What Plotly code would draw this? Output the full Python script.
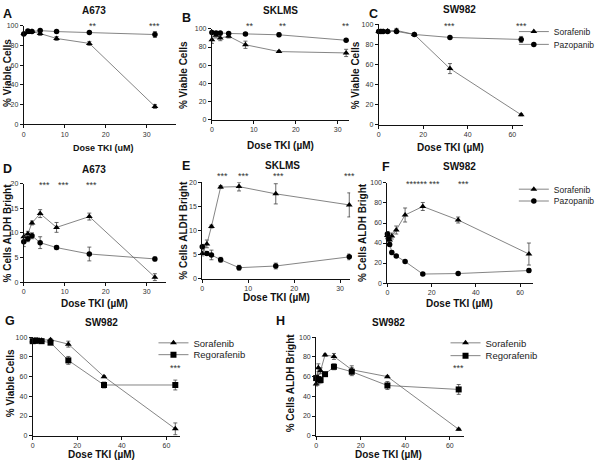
import plotly.graph_objects as go

# ---------------- data ----------------
dose_A = [0, 1, 2, 4, 8, 16, 32]
A_sor = [92, 93, 94, 92, 87, 82, 18]
A_sor_err = [1, 1, 1, 2, 2, 2, 2]
A_paz = [91.5, 94.5, 94, 95, 94, 93, 91]
A_paz_err = [1, 1, 1, 1, 1, 1, 3]

dose_B = [0, 1, 2, 4, 8, 16, 32]
B_sor = [88, 93, 90, 92, 82.5, 75, 73.5]
B_sor_err = [4, 3, 3, 2, 4, 1, 4]
B_paz = [96, 95.5, 95.5, 95, 94.5, 93.5, 87.5]
B_paz_err = [1, 1, 1, 1, 1, 2, 1]

dose_C = [0, 1, 2, 4, 8, 16, 32, 64]
C_sor = [93, 93, 93, 93.5, 94, 90, 56, 10]
C_sor_err = [1, 1, 1, 1, 2, 1, 5, 1]
C_paz = [93, 93, 93, 93, 93, 90, 87, 85]
C_paz_err = [1, 1, 1, 1, 1, 1, 1, 3]

dose_D = [0, 1, 2, 4, 8, 16, 32]
D_sor = [9.2, 9.8, 12.0, 13.9, 11.1, 13.3, 1.0]
D_sor_err = [0.6, 0.5, 0.4, 0.8, 1.0, 0.7, 0.7]
D_paz = [8.2, 8.8, 9.4, 8.0, 7.0, 5.7, 4.7]
D_paz_err = [1.0, 0.6, 0.6, 1.2, 0.4, 1.4, 0.4]

dose_E = [0, 1, 2, 4, 8, 16, 32]
E_sor = [5.2, 7.2, 10.8, 19.0, 19.1, 17.6, 15.3]
E_sor_err = [0.5, 0.8, 0.3, 0.3, 0.9, 2.1, 2.5]
E_paz = [6.6, 5.2, 4.9, 3.9, 2.25, 2.6, 4.5]
E_paz_err = [0.5, 0.4, 1.0, 0.5, 0.5, 0.6, 0.6]

dose_F = [0, 0.5, 1, 2, 4, 8, 16, 32, 64]
F_sor = [47.5, 46, 43, 47, 53, 68, 76.5, 63, 29]
F_sor_err = [4, 3, 3, 3, 4, 7, 4, 3, 11]
F_paz = [49, 44, 38.5, 30.5, 27, 21.5, 9, 9.5, 12.5]
F_paz_err = [2, 2, 2, 2, 1, 1, 1, 1, 2]

dose_G = [0, 1, 2, 4, 8, 16, 32, 64]
G_sor = [96.5, 97, 97, 97, 97.5, 93, 60, 7]
G_sor_err = [1, 1, 1, 1, 1, 3, 1, 6]
G_reg = [96, 96.5, 96.5, 96, 94.5, 76.5, 51.5, 51.5]
G_reg_err = [1, 1, 1, 1, 2, 4, 3, 5]

dose_H = [0, 1, 2, 4, 8, 16, 32, 64]
H_sor = [52.5, 69, 66, 82, 80.5, 67, 60, 6.5]
H_sor_err = [2, 4, 3, 1, 3, 4, 1, 1]
H_reg = [58.5, 57.5, 56.5, 62.5, 70, 65, 51, 47]
H_reg_err = [3, 5, 3, 1, 3, 4, 4, 5]

# significance marks: (panel, x, y, text)
stars = [
    ("A", 17, 100, "**"), ("A", 32, 100, "***"),
    ("B", 9, 103, "**"), ("B", 17, 103, "**"), ("B", 32, 103, "**"),
    ("C", 32, 98, "***"), ("C", 64, 98, "***"),
    ("D", 5, 19.8, "***"), ("D", 9.6, 19.8, "***"), ("D", 16.5, 19.8, "***"),
    ("E", 4.5, 21.2, "***"), ("E", 9, 21.2, "***"), ("E", 16.5, 21.2, "***"), ("E", 32, 21.2, "***"),
    ("F", 13.5, 98.5, "******"), ("F", 21.5, 98.5, "***"), ("F", 34.5, 98.5, "***"),
    ("G", 64, 68.5, "***"),
    ("H", 64, 68.5, "***"),
]

W, H = 600, 467
FONT = "Arial, Liberation Sans, sans-serif"

# panel layout in pixels: x0, x1, xrange end, top, bottom, ymax, xdtick, ydtick
panels = {
    "A": dict(x0=22, x1=176, xe=37.2, top=22, bot=122, ymax=100, xd=10, yd=20),
    "B": dict(x0=212, x1=351, xe=32.8, top=25.3, bot=117.3, ymax=100, xd=10, yd=20),
    "C": dict(x0=380.5, x1=526.7, xe=65, top=20.7, bot=122.7, ymax=100, xd=20, yd=20),
    "D": dict(x0=22, x1=166, xe=34.8, top=182.3, bot=282.3, ymax=20, xd=10, yd=5),
    "E": dict(x0=202.3, x1=351.7, xe=32.2, top=181, bot=278.7, ymax=20, xd=10, yd=5),
    "F": dict(x0=389.3, x1=536.7, xe=66, top=181.7, bot=283.3, ymax=100, xd=20, yd=20),
    "G": dict(x0=31, x1=180, xe=66.2, top=338.3, bot=438.3, ymax=100, xd=20, yd=20),
    "H": dict(x0=317.3, x1=466.7, xe=66.4, top=338.3, bot=438.3, ymax=100, xd=20, yd=20),
}
order = ["A", "B", "C", "D", "E", "F", "G", "H"]

fig = go.Figure()
layout = dict(width=W, height=H, margin=dict(l=0, r=0, t=0, b=0, pad=0),
              paper_bgcolor="white", plot_bgcolor="white", showlegend=True,
              font=dict(family=FONT, color="#222"))
axref = {}
for i, p in enumerate(order):
    c = panels[p]
    n = "" if i == 0 else str(i + 1)
    axref[p] = ("x" + n, "y" + n)
    common = dict(showgrid=False, zeroline=False, showline=True, linecolor="#111",
                  linewidth=1, ticks="outside", ticklen=3, tickwidth=1, tickcolor="#111",
                  tickfont=dict(size=7, family=FONT, color="#333"))
    layout["xaxis" + n] = dict(domain=[c["x0"] / W, c["x1"] / W], range=[0, c["xe"]],
                               anchor="y" + n, dtick=c["xd"], tick0=0, **common)
    layout["yaxis" + n] = dict(domain=[1 - c["bot"] / H, 1 - c["top"] / H], range=[0, c["ymax"]],
                               anchor="x" + n, dtick=c["yd"], tick0=0, **common)

LINE = "#666"
def add(p, xs, ys, err, symbol, name, legend=None):
    xa, ya = axref[p]
    size = 5.5 if symbol == "circle" else 6
    fig.add_trace(go.Scatter(
        x=xs, y=ys, mode="lines+markers", name=name,
        xaxis=xa, yaxis=ya, cliponaxis=False,
        line=dict(color=LINE, width=0.8),
        marker=dict(symbol=symbol, size=size, color="#000"),
        error_y=dict(type="data", array=err, color="#444", thickness=0.8, width=2),
        showlegend=legend is not None, legend=legend if legend else "legend"))

add("A", dose_A, A_sor, A_sor_err, "triangle-up", "Sorafenib")
add("A", dose_A, A_paz, A_paz_err, "circle", "Pazopanib")
add("B", dose_B, B_sor, B_sor_err, "triangle-up", "Sorafenib")
add("B", dose_B, B_paz, B_paz_err, "circle", "Pazopanib")
add("C", dose_C, C_sor, C_sor_err, "triangle-up", "Sorafenib", "legend")
add("C", dose_C, C_paz, C_paz_err, "circle", "Pazopanib", "legend2")
add("D", dose_D, D_sor, D_sor_err, "triangle-up", "Sorafenib")
add("D", dose_D, D_paz, D_paz_err, "circle", "Pazopanib")
add("E", dose_E, E_sor, E_sor_err, "triangle-up", "Sorafenib")
add("E", dose_E, E_paz, E_paz_err, "circle", "Pazopanib")
add("F", dose_F, F_sor, F_sor_err, "triangle-up", "Sorafenib", "legend3")
add("F", dose_F, F_paz, F_paz_err, "circle", "Pazopanib", "legend4")
add("G", dose_G, G_sor, G_sor_err, "triangle-up", "Sorafenib", "legend5")
add("G", dose_G, G_reg, G_reg_err, "square", "Regorafenib", "legend6")
add("H", dose_H, H_sor, H_sor_err, "triangle-up", "Sorafenib", "legend7")
add("H", dose_H, H_reg, H_reg_err, "square", "Regorafenib", "legend8")

# legends: (name, text-left px, center y px, font size)
leg_pos = {"legend": (557, 28, 8.5), "legend2": (557, 41, 8.5),
           "legend3": (557, 188, 8.5), "legend4": (557, 200, 8.5),
           "legend5": (193, 344, 9.5), "legend6": (193, 356, 9.5),
           "legend7": (488, 344, 9.5), "legend8": (488, 357, 9.5)}
for k, (tx, ty, fs) in leg_pos.items():
    layout[k] = dict(x=(tx - 40) / W, y=1 - ty / H, xanchor="left", yanchor="middle",
                     bgcolor="rgba(0,0,0,0)", borderwidth=0, itemwidth=30,
                     font=dict(size=fs, family=FONT, color="#222"))

ann = []
def text(x, y, s, size, bold=True, angle=0, xanchor="center"):
    ann.append(dict(x=x / W, y=1 - y / H, xref="paper", yref="paper", text=("<b>%s</b>" % s) if bold else s,
                    showarrow=False, textangle=angle, xanchor=xanchor, yanchor="middle",
                    font=dict(size=size, family=FONT, color="#111")))

letters = [("A", 6, 10), ("B", 186, 14), ("C", 375, 10), ("D", 6, 168), ("E", 186, 164),
           ("F", 388, 165), ("G", 8, 322), ("H", 281, 322)]
for s, x, y in letters:
    text(x, y, s, 12.5)
titles = [("A673", 93, 7), ("SKLMS", 281, 7), ("SW982", 462, 6), ("A673", 93, 168),
          ("SKLMS", 283, 164), ("SW982", 462, 165), ("SW982", 100, 323), ("SW982", 390, 323)]
for s, x, y in titles:
    text(x, y, s, 10)
xtitles = [("Dose TKI (uM)", 103, 146, 9), ("Dose TKI (µM)", 281, 144, 10), ("Dose TKI (µM)", 453, 146, 10),
           ("Dose TKI (µM)", 93, 304, 10), ("Dose TKI (µM)", 277, 298, 10), ("Dose TKI (µM)", 462, 304, 10),
           ("Dose TKI (µM)", 100, 457, 10), ("Dose TKI (µM)", 390, 457, 10)]
for s, x, y, sz in xtitles:
    text(x, y, s, sz)
ytitles = [("% Viable Cells", 6, 70), ("% Viable Cells", 184, 72), ("% Viable Cells", 358, 72),
           ("% Cells ALDH Bright", 6, 232), ("% Cells ALDH Bright", 183, 230), ("% Cells ALDH Bright", 364, 232),
           ("% Viable Cells", 8, 385), ("% Cells ALDH Bright", 291, 385)]
for s, x, y in ytitles:
    text(x, y, s, 10, angle=-90)

for p, x, y, s in stars:
    xa, ya = axref[p]
    c = panels[p]
    ppu = (c["bot"] - c["top"]) / c["ymax"]
    yy = min(y, c["ymax"])
    ann.append(dict(x=x, y=yy, xref=xa, yref=ya, text=s, showarrow=False, yanchor="middle",
                    yshift=(y - yy) * ppu,
                    font=dict(size=9, family=FONT, color="#333")))

layout["annotations"] = ann
fig.update_layout(**layout)
fig.write_html("out.html",
               config={"displayModeBar": False, "staticPlot": True},
               post_script="document.body.style.margin='0';document.body.style.padding='0';"
                           "document.documentElement.style.overflow='hidden';")
